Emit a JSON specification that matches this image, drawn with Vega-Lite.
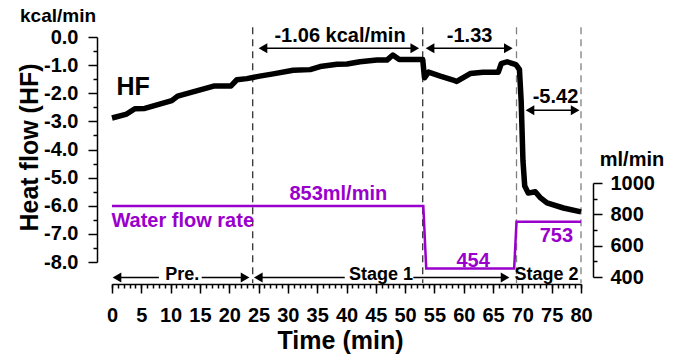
{
  "$schema": "https://vega.github.io/schema/vega-lite/v6.json",
  "width": 469,
  "height": 247,
  "autosize": {"type": "none"},
  "padding": {"left": 112, "top": 37, "right": 102, "bottom": 74},
  "background": "white",
  "config": {
    "view": {"stroke": null},
    "font": "Liberation Sans",
    "text": {"font": "Liberation Sans", "fontWeight": "bold"},
    "axis": {
      "labelFont": "Liberation Sans", "titleFont": "Liberation Sans",
      "labelFontWeight": "bold", "titleFontWeight": "bold",
      "labelColor": "black", "titleColor": "black",
      "domainColor": "black", "tickColor": "black",
      "domainWidth": 1.5, "tickWidth": 1.5, "grid": false
    }
  },
  "resolve": {"scale": {"y": "independent"}, "axis": {"x": "independent", "y": "independent"}},
  "layer": [
    {
      "resolve": {"axis": {"x": "independent", "y": "independent"}},
      "layer": [
        {
          "encoding": {
            "x": {"field": "t", "type": "quantitative",
              "scale": {"domain": [0, 80], "nice": false, "zero": false},
              "axis": {"orient": "bottom", "values": [0,5,10,15,20,25,30,35,40,45,50,55,60,65,70,75,80],
                "tickSize": 9, "labelFontSize": 20, "labelPadding": 12, "labelFlush": false, "labelOverlap": false,
                "title": "Time (min)", "titleFontSize": 25, "titleX": 228, "titleY": 64,
                "titleAlign": "center", "titleBaseline": "alphabetic"}},
            "y": {"field": "v", "type": "quantitative",
              "scale": {"domain": [-8, 0], "range": [225, 0], "nice": false, "zero": false},
              "axis": {"orient": "left", "offset": 15, "values": [-8,-7,-6,-5,-4,-3,-2,-1,0],
                "labelExpr": "datum.value == 0 ? '0.0' : '-' + format(-datum.value, '.1f')",
                "tickSize": 9, "labelFontSize": 20, "labelPadding": 10,
                "title": "Heat flow (HF)", "titleFontSize": 25, "titleAngle": -90,
                "titleX": -60, "titleY": 110, "titleAlign": "center", "titleBaseline": "alphabetic"}}
          },
          "layer": [
            {
              "data": {"values": [{"t": 24, "v": 0.35, "v2": -8.75}, {"t": 53, "v": 0.35, "v2": -8.75}]},
              "mark": {"type": "rule", "strokeDash": [7, 5], "strokeWidth": 1.3, "color": "#333333"},
              "encoding": {"y2": {"field": "v2"}}
            },
            {
              "data": {"values": [{"t": 69, "v": 0.35, "v2": -8.75}, {"t": 80, "v": 0.35, "v2": -8.75}]},
              "mark": {"type": "rule", "strokeDash": [7, 5], "strokeWidth": 1.3, "color": "#808080"},
              "encoding": {"y2": {"field": "v2"}}
            },
            {
              "data": {"values": [
                {"t": 0, "v": -2.88}, {"t": 2.5, "v": -2.74}, {"t": 3.9, "v": -2.55}, {"t": 5.6, "v": -2.54},
                {"t": 10.2, "v": -2.26}, {"t": 11.2, "v": -2.1}, {"t": 17.5, "v": -1.74}, {"t": 20.3, "v": -1.74},
                {"t": 21.3, "v": -1.52}, {"t": 23, "v": -1.48}, {"t": 25.2, "v": -1.39}, {"t": 27.5, "v": -1.31},
                {"t": 30.9, "v": -1.18}, {"t": 33.8, "v": -1.16}, {"t": 35.5, "v": -1.05}, {"t": 38.4, "v": -0.97},
                {"t": 40.1, "v": -0.96}, {"t": 42.3, "v": -0.88}, {"t": 45.2, "v": -0.82}, {"t": 46.9, "v": -0.82},
                {"t": 47.9, "v": -0.64}, {"t": 49, "v": -0.8}, {"t": 53, "v": -0.8}, {"t": 53.3, "v": -1.45},
                {"t": 54, "v": -1.25}, {"t": 56, "v": -1.39}, {"t": 58.2, "v": -1.53}, {"t": 58.8, "v": -1.58},
                {"t": 61.1, "v": -1.3}, {"t": 63.3, "v": -1.25}, {"t": 65.9, "v": -1.25}, {"t": 66.4, "v": -0.95},
                {"t": 67.4, "v": -0.88}, {"t": 68.9, "v": -0.98}, {"t": 69.5, "v": -1.15}, {"t": 69.8, "v": -2.3},
                {"t": 70.1, "v": -4.4}, {"t": 70.4, "v": -5.3}, {"t": 71, "v": -5.55}, {"t": 72.2, "v": -5.5},
                {"t": 73, "v": -5.7}, {"t": 74.2, "v": -5.9}, {"t": 77, "v": -6.08}, {"t": 80, "v": -6.22}
              ]},
              "mark": {"type": "line", "color": "black", "strokeWidth": 5.5, "strokeJoin": "round"}
            },
            {
              "data": {"values": [
                {"t": 25.75, "t2": 51.65, "v": -0.4}, {"t": 54.25, "t2": 67.6, "v": -0.4},
                {"t": 71.3, "t2": 79.0, "v": -2.6},
                {"t": 0.85, "t2": 8.0, "v": -8.55}, {"t": 15.3, "t2": 22.7, "v": -8.55},
                {"t": 24.95, "t2": 39.7, "v": -8.55}, {"t": 51.4, "t2": 67.05, "v": -8.55}
              ]},
              "mark": {"type": "rule", "color": "black", "strokeWidth": 1.5},
              "encoding": {"x2": {"field": "t2"}}
            },
            {
              "data": {"values": [
                {"t": 25.75, "v": -0.4}, {"t": 54.25, "v": -0.4}, {"t": 71.3, "v": -2.6},
                {"t": 0.85, "v": -8.55}, {"t": 24.95, "v": -8.55}
              ]},
              "mark": {"type": "point", "shape": "triangle-left", "filled": true, "size": 100, "color": "black", "opacity": 1}
            },
            {
              "data": {"values": [
                {"t": 51.65, "v": -0.4}, {"t": 67.6, "v": -0.4}, {"t": 79.0, "v": -2.6},
                {"t": 22.7, "v": -8.55}, {"t": 67.05, "v": -8.55}
              ]},
              "mark": {"type": "point", "shape": "triangle-right", "filled": true, "size": 100, "color": "black", "opacity": 1}
            },
            {
              "data": {"values": [
                {"t": 38.9, "v": -0.17, "label": "-1.06 kcal/min"},
                {"t": 61.0, "v": -0.17, "label": "-1.33"},
                {"t": 75.65, "v": -2.36, "label": "-5.42"}
              ]},
              "mark": {"type": "text", "fontSize": 20, "align": "center", "baseline": "alphabetic", "color": "black"},
              "encoding": {"text": {"field": "label"}}
            },
            {
              "data": {"values": [
                {"t": 12.0, "v": -8.65, "label": "Pre."},
                {"t": 45.9, "v": -8.65, "label": "Stage 1"},
                {"t": 74.1, "v": -8.65, "label": "Stage 2"}
              ]},
              "mark": {"type": "text", "fontSize": 18, "align": "center", "baseline": "alphabetic", "color": "black"},
              "encoding": {"text": {"field": "label"}}
            },
            {
              "data": {"values": [
                {"t": 38.6, "v": -5.8, "label": "853ml/min"},
                {"t": 61.6, "v": -8.17, "label": "454"},
                {"t": 75.8, "v": -7.28, "label": "753"}
              ]},
              "mark": {"type": "text", "fontSize": 20, "align": "center", "baseline": "alphabetic", "color": "#9900CC"},
              "encoding": {"text": {"field": "label"}}
            },
            {
              "data": {"values": [{"t": -0.1, "v": -6.75, "label": "Water flow rate"}]},
              "mark": {"type": "text", "fontSize": 20, "align": "left", "baseline": "alphabetic", "color": "#9900CC"},
              "encoding": {"text": {"field": "label"}}
            },
            {
              "data": {"values": [{"t": 0.75, "v": -2.06, "label": "HF"}]},
              "mark": {"type": "text", "fontSize": 25, "align": "left", "baseline": "alphabetic", "color": "black"},
              "encoding": {"text": {"field": "label"}}
            },
            {
              "data": {"values": [{"t": -9.2, "v": 0.55, "label": "kcal/min"}]},
              "mark": {"type": "text", "fontSize": 19, "align": "center", "baseline": "alphabetic", "color": "black"},
              "encoding": {"text": {"field": "label"}}
            }
          ]
        },
        {
          "data": {"values": [{"t": 0, "v": -2.88}, {"t": 80, "v": -6.22}]},
          "mark": {"type": "line", "opacity": 0},
          "encoding": {
            "x": {"field": "t", "type": "quantitative",
              "scale": {"domain": [0, 80], "nice": false, "zero": false},
              "axis": {"orient": "bottom", "domain": false, "labels": false, "title": null, "tickSize": 4,
                "values": [0,1,2,3,4,5,6,7,8,9,10,11,12,13,14,15,16,17,18,19,20,21,22,23,24,25,26,27,28,29,30,31,32,33,34,35,36,37,38,39,40,41,42,43,44,45,46,47,48,49,50,51,52,53,54,55,56,57,58,59,60,61,62,63,64,65,66,67,68,69,70,71,72,73,74,75,76,77,78,79,80]}},
            "y": {"field": "v", "type": "quantitative",
              "scale": {"domain": [-8, 0], "range": [225, 0], "nice": false, "zero": false},
              "axis": {"orient": "left", "offset": 15, "domain": false, "labels": false, "title": null, "tickSize": 4,
                "values": [-7.5,-6.5,-5.5,-4.5,-3.5,-2.5,-1.5,-0.5]}}
          }
        }
      ]
    },
    {
      "resolve": {"axis": {"y": "independent"}},
      "data": {"values": [
        {"t": 0, "v": 853}, {"t": 53.1, "v": 853}, {"t": 53.6, "v": 454},
        {"t": 68.6, "v": 454}, {"t": 69.0, "v": 753}, {"t": 80, "v": 753}
      ]},
      "layer": [
        {
          "mark": {"type": "line", "color": "#9900CC", "strokeWidth": 2.5},
          "encoding": {
            "x": {"field": "t", "type": "quantitative", "scale": {"domain": [0, 80], "nice": false, "zero": false}, "axis": null},
            "y": {"field": "v", "type": "quantitative",
              "scale": {"domain": [400, 1000], "range": [240, 146], "nice": false, "zero": false},
              "axis": {"orient": "right", "offset": 12, "values": [400, 600, 800, 1000], "format": "d",
                "tickSize": 9, "labelFontSize": 20, "labelPadding": 8,
                "title": "ml/min", "titleFontSize": 20, "titleAngle": 0, "titleX": 38.5, "titleY": 128,
                "titleAlign": "center", "titleBaseline": "alphabetic"}}
          }
        },
        {
          "mark": {"type": "line", "opacity": 0},
          "encoding": {
            "x": {"field": "t", "type": "quantitative", "scale": {"domain": [0, 80], "nice": false, "zero": false}, "axis": null},
            "y": {"field": "v", "type": "quantitative",
              "scale": {"domain": [400, 1000], "range": [240, 146], "nice": false, "zero": false},
              "axis": {"orient": "right", "offset": 12, "values": [500, 700, 900], "domain": false, "labels": false,
                "title": null, "tickSize": 4}}
          }
        }
      ]
    }
  ]
}
